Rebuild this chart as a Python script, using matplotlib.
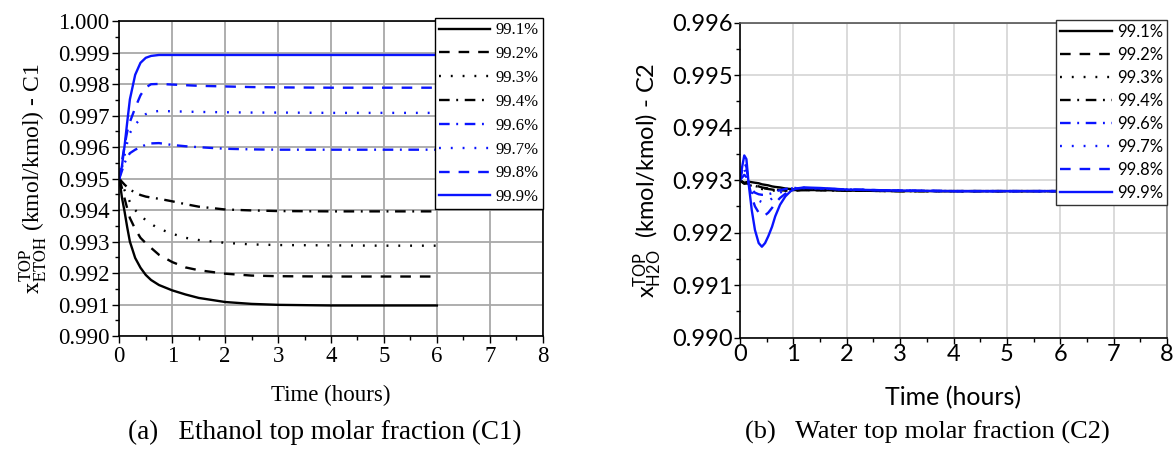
import matplotlib
matplotlib.use("Agg")
import matplotlib.pyplot as plt
from matplotlib.ticker import MultipleLocator, FormatStrFormatter

# ---------------- data ----------------
labels = ["99.1%", "99.2%", "99.3%", "99.4%", "99.6%", "99.7%", "99.8%", "99.9%"]

time_c1 = [0, 0.05, 0.1, 0.15, 0.2, 0.3, 0.4, 0.5, 0.6, 0.75, 1.0, 1.25, 1.5, 2.0, 2.5, 3.0, 4.0, 5.0, 6.0]
c1_991 = [0.99500, 0.99440, 0.99395, 0.99345, 0.99300, 0.99248, 0.99217, 0.99194, 0.99178, 0.99162,
          0.99145, 0.99132, 0.99121, 0.99108, 0.99102, 0.99099, 0.99097, 0.99097, 0.99097]
c1_992 = [0.99500, 0.99470, 0.99437, 0.99405, 0.99375, 0.99340, 0.99312, 0.99295, 0.99280, 0.99258,
          0.99235, 0.99218, 0.99209, 0.99198, 0.99192, 0.99190, 0.99189, 0.99189, 0.99189]
c1_993 = [0.99500, 0.99482, 0.99463, 0.99445, 0.99426, 0.99400, 0.99383, 0.99368, 0.99356, 0.99341,
          0.99325, 0.99312, 0.99305, 0.99296, 0.99291, 0.99289, 0.99288, 0.99287, 0.99287]
c1_994 = [0.99500, 0.99490, 0.99481, 0.99473, 0.99465, 0.99456, 0.99448, 0.99443, 0.99440, 0.99436,
          0.99428, 0.99419, 0.99411, 0.99402, 0.99399, 0.99397, 0.99396, 0.99396, 0.99396]
c1_996 = [0.99500, 0.99525, 0.99550, 0.99567, 0.99581, 0.99592, 0.99600, 0.99608, 0.99612, 0.99613,
          0.99607, 0.99603, 0.99600, 0.99595, 0.99593, 0.99592, 0.99592, 0.99592, 0.99592]
c1_997 = [0.99500, 0.99535, 0.99575, 0.99615, 0.99645, 0.99672, 0.99690, 0.99705, 0.99712, 0.99715,
          0.99714, 0.99713, 0.99712, 0.99711, 0.99710, 0.99710, 0.99709, 0.99709, 0.99709]
c1_998 = [0.99500, 0.99555, 0.99605, 0.99650, 0.99680, 0.99725, 0.99765, 0.99790, 0.99800, 0.99801,
          0.99799, 0.99797, 0.99795, 0.99793, 0.99791, 0.99790, 0.99789, 0.99789, 0.99789]
c1_999 = [0.99500, 0.99540, 0.99605, 0.99680, 0.99752, 0.99830, 0.99868, 0.99884, 0.99890, 0.99893,
          0.99893, 0.99893, 0.99893, 0.99893, 0.99893, 0.99893, 0.99893, 0.99893, 0.99893]

time_c2 = [0, 0.04, 0.08, 0.12, 0.16, 0.22, 0.28, 0.35, 0.41, 0.47, 0.53, 0.6, 0.66, 0.75, 0.85,
           0.95, 1.05, 1.2, 1.5, 2.0, 3.0, 4.0, 5.0, 6.0]
c2_991 = [0.99300, 0.99297, 0.99295, 0.99296, 0.99297, 0.99296, 0.99295, 0.99294, 0.99292, 0.99291,
          0.99290, 0.99288, 0.99287, 0.99286, 0.99284, 0.99283, 0.99282, 0.99281, 0.99281, 0.99280,
          0.99279, 0.99279, 0.99279, 0.99279]
c2_992 = [0.99300, 0.99296, 0.99293, 0.99294, 0.99294, 0.99292, 0.99290, 0.99288, 0.99286, 0.99285,
          0.99284, 0.99283, 0.99282, 0.99281, 0.99280, 0.99280, 0.99280, 0.99281, 0.99281, 0.99280,
          0.99279, 0.99279, 0.99279, 0.99279]
c2_993 = [0.99300, 0.99295, 0.99292, 0.99292, 0.99291, 0.99289, 0.99287, 0.99285, 0.99283, 0.99282,
          0.99281, 0.99280, 0.99280, 0.99280, 0.99280, 0.99281, 0.99281, 0.99281, 0.99281, 0.99280,
          0.99279, 0.99279, 0.99279, 0.99279]
c2_994 = [0.99300, 0.99297, 0.99294, 0.99294, 0.99293, 0.99291, 0.99289, 0.99287, 0.99285, 0.99284,
          0.99283, 0.99282, 0.99281, 0.99281, 0.99281, 0.99281, 0.99281, 0.99281, 0.99281, 0.99280,
          0.99279, 0.99279, 0.99279, 0.99279]
c2_996 = [0.99300, 0.99305, 0.99310, 0.99306, 0.99293, 0.99282, 0.99276, 0.99273, 0.99272, 0.99272,
          0.99273, 0.99275, 0.99278, 0.99281, 0.99283, 0.99285, 0.99285, 0.99285, 0.99284, 0.99282,
          0.99280, 0.99279, 0.99279, 0.99279]
c2_997 = [0.99300, 0.99310, 0.99320, 0.99314, 0.99295, 0.99278, 0.99268, 0.99261, 0.99258, 0.99258,
          0.99260, 0.99265, 0.99270, 0.99276, 0.99281, 0.99284, 0.99285, 0.99285, 0.99284, 0.99282,
          0.99280, 0.99279, 0.99279, 0.99279]
c2_998 = [0.99300, 0.99318, 0.99333, 0.99325, 0.99295, 0.99268, 0.99250, 0.99238, 0.99233, 0.99233,
          0.99238, 0.99247, 0.99256, 0.99266, 0.99274, 0.99280, 0.99284, 0.99285, 0.99284, 0.99282,
          0.99280, 0.99279, 0.99279, 0.99279]
c2_999 = [0.99300, 0.99325, 0.99347, 0.99340, 0.99295, 0.99243, 0.99205, 0.99180, 0.99173, 0.99180,
          0.99193, 0.99211, 0.99231, 0.99253, 0.99269, 0.99279, 0.99284, 0.99286, 0.99285, 0.99282,
          0.99280, 0.99279, 0.99279, 0.99279]

c1_series = [c1_991, c1_992, c1_993, c1_994, c1_996, c1_997, c1_998, c1_999]
c2_series = [c2_991, c2_992, c2_993, c2_994, c2_996, c2_997, c2_998, c2_999]

# ---------------- styles ----------------
BLUE = "#0a14ff"
colors = ["black"] * 4 + [BLUE] * 4
DASHED = (0, (4.5, 3.8))
DOTTED = (0, (0.8, 4.2))
DASHDOT = (0, (4.5, 2.8, 0.8, 2.8))
styles = ["-", DASHED, DOTTED, DASHDOT, DASHDOT, DOTTED, DASHED, "-"]
LW = 1.7

plt.rcParams["mathtext.rm"] = "Lato"
plt.rcParams["mathtext.it"] = "Lato:italic"
plt.rcParams["mathtext.bf"] = "Lato:bold"

W, H = 1173, 457
fig = plt.figure(figsize=(W / 100, H / 100), dpi=100)

ax1 = fig.add_axes([119.3 / W, 1 - 336.0 / H, 423.4 / W, 314.7 / H])
ax2 = fig.add_axes([740.0 / W, 1 - 337.5 / H, 427.0 / W, 314.8 / H])

SERIF = "Liberation Serif"
SANS = "Lato"

# ---------- panel (a) ----------
for vals, c, ls, lab in zip(c1_series, colors, styles, labels):
    ax1.plot(time_c1, vals, color=c, linestyle=ls, lw=LW, label=lab)
ax1.set_xlim(0, 8)
ax1.set_ylim(0.990, 1.000)
ax1.xaxis.set_major_locator(MultipleLocator(1))
ax1.xaxis.set_minor_locator(MultipleLocator(0.5))
ax1.yaxis.set_major_locator(MultipleLocator(0.001))
ax1.yaxis.set_minor_locator(MultipleLocator(0.0005))
ax1.yaxis.set_major_formatter(FormatStrFormatter("%.3f"))
ax1.grid(True, which="major", color="#a8a8a8", lw=1.3)
ax1.set_axisbelow(True)
ax1.tick_params(which="major", direction="out", length=5, width=1, labelsize=16.5, pad=2)
ax1.tick_params(which="minor", direction="out", length=3, width=1)
for lab in ax1.get_xticklabels() + ax1.get_yticklabels():
    lab.set_fontfamily(SERIF)
for s in ax1.spines.values():
    s.set_color("black")
    s.set_linewidth(1.2)
ax1.set_xlabel("Time (hours)", fontfamily=SERIF, fontsize=16.5, labelpad=13)
ax1.set_ylabel(r"$\mathrm{x}_{\mathrm{ETOH}}^{\mathrm{TOP}}$ (kmol/kmol) - C1", fontfamily=SERIF,
               fontsize=17, math_fontfamily="stix", labelpad=6)
leg1 = ax1.legend(loc="upper right", bbox_to_anchor=(1.0, 1.0095), borderaxespad=0,
                  frameon=True, fancybox=False, framealpha=1, edgecolor="black",
                  prop={"family": SERIF, "size": 12}, handlelength=3.1, handletextpad=0.3,
                  labelspacing=0.47, borderpad=0.25)
leg1.get_frame().set_linewidth(1.0)

# ---------- panel (b) ----------
for vals, c, ls, lab in zip(c2_series, colors, styles, labels):
    ax2.plot(time_c2, vals, color=c, linestyle=ls, lw=LW, label=lab)
ax2.set_xlim(0, 8)
ax2.set_ylim(0.990, 0.996)
ax2.xaxis.set_major_locator(MultipleLocator(1))
ax2.xaxis.set_minor_locator(MultipleLocator(0.5))
ax2.yaxis.set_major_locator(MultipleLocator(0.001))
ax2.yaxis.set_minor_locator(MultipleLocator(0.0005))
ax2.yaxis.set_major_formatter(FormatStrFormatter("%.3f"))
ax2.grid(True, which="major", color="#d4d4d4", lw=1.2)
ax2.set_axisbelow(True)
ax2.tick_params(which="major", direction="out", length=4, width=1, labelsize=17, pad=1)
ax2.tick_params(which="minor", direction="out", length=3, width=1)
for lab in ax2.get_xticklabels() + ax2.get_yticklabels():
    lab.set_fontfamily(SANS)
ax2.spines["left"].set_color("black")
ax2.spines["bottom"].set_color("black")
ax2.spines["top"].set_color("#555555")
ax2.spines["right"].set_color("#888888")
for s in ax2.spines.values():
    s.set_linewidth(1.2)
ax2.set_xlabel("Time (hours)", fontfamily=SANS, fontsize=18, labelpad=15)
ax2.set_ylabel(r"$\mathrm{x}_{\mathrm{H2O}}^{\mathrm{TOP}}$  (kmol/kmol) - C2", fontfamily=SANS,
               fontsize=17, math_fontfamily="custom", labelpad=6)
leg2 = ax2.legend(loc="upper right", bbox_to_anchor=(1.0, 1.0086), borderaxespad=0,
                  frameon=True, fancybox=False, framealpha=1, edgecolor="#333333",
                  prop={"family": SANS, "size": 12}, handlelength=3.1, handletextpad=0.3,
                  labelspacing=0.42, borderpad=0.25)
leg2.get_frame().set_linewidth(1.0)

# ---------- captions ----------
fig.text(325 / W, 1 - 432 / H, "(a)   Ethanol top molar fraction (C1)", ha="center", va="center",
         fontfamily=SERIF, fontsize=19.5)
fig.text(927 / W, 1 - 432 / H, "(b)   Water top molar fraction (C2)", ha="center", va="center",
         fontfamily=SERIF, fontsize=19)

fig.savefig("out.png", dpi=100)
